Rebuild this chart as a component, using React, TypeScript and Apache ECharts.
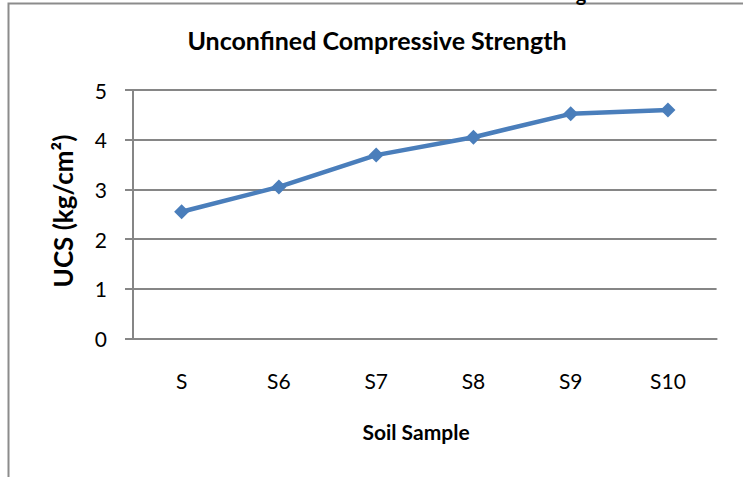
import React, { useEffect, useRef } from "react";
import * as echarts from "echarts";

const categories = ["S", "S6", "S7", "S8", "S9", "S10"];
const ucsValues = [2.55, 3.05, 3.69, 4.05, 4.52, 4.6];
const yTicks = [0, 1, 2, 3, 4, 5];

const FONT = "Lato, 'Open Sans', sans-serif";

export default function App() {
  const ref = useRef<HTMLDivElement>(null);
  useEffect(() => {
    if (!ref.current) return;
    const chart = echarts.init(ref.current, null, { renderer: "svg" });
    chart.setOption({
      animation: false,
      backgroundColor: "#ffffff",
      grid: { left: 133, right: 26.4, top: 90, bottom: 138.5, containLabel: false },
      xAxis: {
        type: "category",
        data: categories,
        boundaryGap: true,
        axisLine: { show: true, lineStyle: { color: "#868686", width: 2 } },
        axisTick: { show: false },
        axisLabel: { color: "#000", fontFamily: FONT, fontSize: 21, margin: 31 },
      },
      yAxis: {
        type: "value",
        min: 0,
        max: 5,
        interval: 1,
        axisLine: { show: true, lineStyle: { color: "#868686", width: 2 } },
        axisTick: { show: true, length: 8, lineStyle: { color: "#868686", width: 2 } },
        axisLabel: {
          color: "#000",
          fontFamily: FONT,
          fontSize: 21,
          margin: 26,
          formatter: (v: number) => (yTicks.includes(v) ? String(v) : ""),
        },
        splitLine: { show: true, lineStyle: { color: "#868686", width: 2 } },
      },
      series: [
        {
          type: "line",
          data: ucsValues,
          symbol: "diamond",
          symbolSize: 15,
          lineStyle: { color: "#4A7EBB", width: 4.5 },
          itemStyle: { color: "#4A7EBB" },
        },
      ],
      graphic: [
        {
          type: "rect",
          shape: { x: 8.5, y: 3.5, width: 740, height: 490 },
          style: { fill: "none", stroke: "#8c8c8c", lineWidth: 2 },
          silent: true,
        },
        {
          type: "text",
          x: 377,
          y: 40,
          style: {
            text: "Unconfined Compressive Strength",
            fontFamily: FONT,
            fontSize: 25,
            fontWeight: "bold",
            fill: "#000",
            align: "center",
            verticalAlign: "middle",
          },
        },
        {
          type: "text",
          x: 416,
          y: 431,
          style: {
            text: "Soil Sample",
            fontFamily: FONT,
            fontSize: 21,
            fontWeight: "bold",
            fill: "#000",
            align: "center",
            verticalAlign: "middle",
          },
        },
        {
          type: "text",
          x: 63,
          y: 211,
          rotation: Math.PI / 2,
          style: {
            text: "UCS (kg/cm²)",
            fontFamily: FONT,
            fontSize: 26,
            fontWeight: "bold",
            fill: "#000",
            align: "center",
            verticalAlign: "middle",
          },
        },
        {
          type: "text",
          x: 581,
          y: -17,
          style: { text: "g", fontFamily: FONT, fontSize: 20, fontWeight: "bold", fill: "#000", align: "center", verticalAlign: "top" },
        },
      ],
    });
    return () => chart.dispose();
  }, []);
  return <div ref={ref} style={{ position: "absolute", left: 0, top: 0, width: 743, height: 477 }} />;
}
